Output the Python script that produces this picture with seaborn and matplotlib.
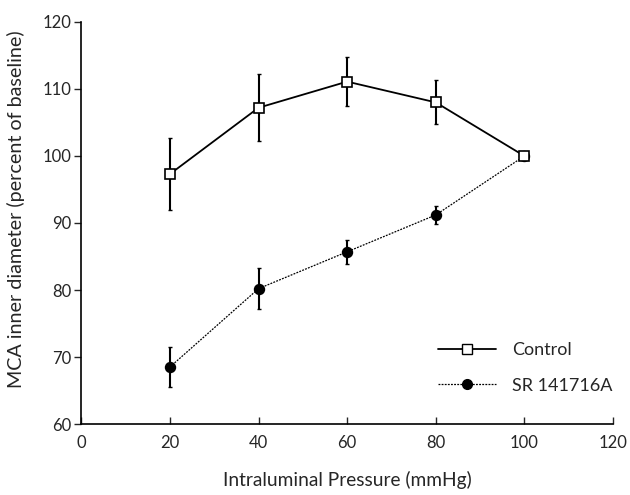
import matplotlib
matplotlib.use("Agg")
import matplotlib.pyplot as plt
import seaborn as sns
import pandas as pd
from matplotlib.lines import Line2D

pressure = [20, 40, 60, 80, 100]
control_mean = [97.3, 107.2, 111.1, 108.0, 100.0]
control_err = [5.4, 5.0, 3.6, 3.3, 0.0]
sr_mean = [68.5, 80.2, 85.7, 91.2, 100.0]
sr_err = [3.0, 3.1, 1.75, 1.4, 0.0]
series_names = ["Control", "SR 141716A"]
x_ticks = [0, 20, 40, 60, 80, 100, 120]
y_ticks = [60, 70, 80, 90, 100, 110, 120]

sns.set_style("ticks")
plt.rcParams['font.family'] = ['Lato', 'DejaVu Sans']

df = pd.DataFrame({
    "Pressure": pressure * 2,
    "Diameter": control_mean + sr_mean,
    "Err": control_err + sr_err,
    "Group": [series_names[0]] * 5 + [series_names[1]] * 5,
})

fig = plt.figure(figsize=(6.3, 4.95), dpi=100)
ax = fig.add_axes([0.129, 0.1434, 0.844, 0.8122])

styles = {
    series_names[0]: dict(ls="-", lw=1.3, marker="s", mfc="white", ms=7.5, z=4),
    series_names[1]: dict(ls=(0, (1.5, 1)), lw=0.9, marker="o", mfc="black", ms=7, z=3),
}

# error bars
for name in series_names:
    sub = df[df.Group == name]
    sub_e = sub[sub.Err > 0]
    ax.errorbar(sub_e.Pressure, sub_e.Diameter, yerr=sub_e.Err, fmt="none",
                ecolor="black", elinewidth=1.5, capsize=1.5, capthick=1, zorder=2)

# lines and markers through seaborn (SR first so the Control square sits on top)
for name in series_names[::-1]:
    sub = df[df.Group == name]
    st = styles[name]
    sns.lineplot(data=sub, x="Pressure", y="Diameter", ax=ax, color="black",
                 linestyle=st["ls"], linewidth=st["lw"], marker=st["marker"],
                 markerfacecolor=st["mfc"], markeredgecolor="black",
                 markeredgewidth=1.2, markersize=st["ms"], zorder=st["z"],
                 errorbar=None, legend=False)

ax.set_xlim(0, 120)
ax.set_ylim(60, 120)
ax.set_xticks(x_ticks)
ax.set_yticks(y_ticks)
ax.tick_params(axis="x", direction="in", length=5, width=1, labelsize=12, pad=8)
ax.tick_params(axis="y", direction="out", length=5, width=1, labelsize=12, pad=2)
for s in ["top", "right"]:
    ax.spines[s].set_visible(False)
for s in ["left", "bottom"]:
    ax.spines[s].set_linewidth(1.2)
    ax.spines[s].set_color("black")

ax.set_xlabel("Intraluminal Pressure (mmHg)", fontsize=13.8, labelpad=14)
ax.set_ylabel("MCA inner diameter (percent of baseline)", fontsize=14.2, labelpad=5)
ax.yaxis.set_label_coords(-0.105, 0.535)

handles = [
    Line2D([], [], color="black", linestyle=styles[n]["ls"], linewidth=styles[n]["lw"],
           marker=styles[n]["marker"], markerfacecolor=styles[n]["mfc"],
           markeredgecolor="black", markersize=styles[n]["ms"])
    for n in series_names
]
ax.legend(handles, series_names, loc="lower right", bbox_to_anchor=(1.03, 0.035),
          frameon=False, fontsize=13, handlelength=3.2, labelspacing=1.1,
          handletextpad=0.9)

fig.savefig("out.png", dpi=100)
